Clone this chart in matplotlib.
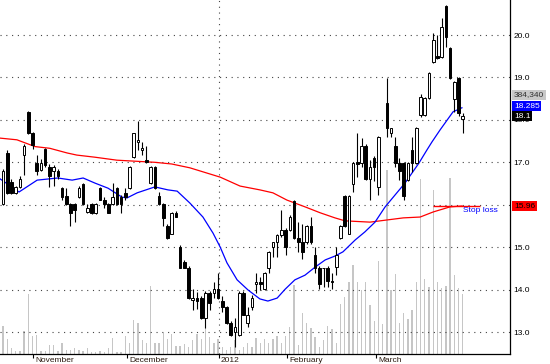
import numpy as np
import matplotlib
matplotlib.use('Agg')
import matplotlib.pyplot as plt

plt.rcParams['font.family'] = ['Liberation Sans', 'DejaVu Sans']

nan = np.nan
opens = [16.02, 17.22, 16.54, 16.28, 16.42, 17.18, 18.19, 17.69, 16.99, 16.82,
         17.32, 16.90, 16.80, 16.80, 16.40, 16.21, 16.02, 16.02, 16.19, 16.49,
         15.83, 16.02, 15.81, 16.40, 16.12, 16.02, 16.02, 16.40, 16.19, 16.28,
         16.40, 17.13, 17.48, 17.29, 17.06, 16.52, 16.90, 16.21, 16.02, 15.51,
         15.32, 15.81, 15.01, 14.64, 14.52, 13.76, 13.81, 13.81, 13.34, 13.93,
         13.93, 14.02, 13.72, 13.60, 13.22, 13.01, 12.92, 13.93, 13.22, 13.60,
         14.12, 14.19, 14.02, 14.52, 15.01, 15.11, 15.29, 15.41, 15.41, 16.09,
         15.22, 15.11, 15.11, 15.51, 14.82, 14.52, 14.50, 14.52, 14.21, 14.54,
         15.22, 16.21, 15.32, 16.49, 17.00, 16.99, 17.39, 16.61, 17.11, 16.42,
         nan, 18.40, 17.69, 17.39, 16.99, 16.99, 16.59, 17.29, 16.99, 18.12,
         18.12, 18.52, 19.36, 19.50, 19.48, 20.68, 19.69, 18.49, 18.99, 18.03]
highs = [16.85, 17.30, 16.60, 16.45, 16.68, 17.42, 18.22, 17.72, 17.18, 17.08,
         17.34, 16.95, 16.94, 16.85, 16.42, 16.40, 16.05, 16.05, 16.45, 16.52,
         16.02, 16.05, 16.05, 16.42, 16.19, 16.05, 16.52, 16.42, 16.22, 16.40,
         16.92, 17.70, 17.98, 17.48, 17.39, 16.92, 16.92, 16.30, 16.05, 15.55,
         15.83, 15.85, 15.05, 14.70, 14.55, 14.02, 13.95, 13.85, 13.96, 13.96,
         14.19, 14.40, 13.84, 13.62, 13.25, 13.34, 13.96, 13.96, 13.60, 13.88,
         14.40, 14.30, 14.42, 14.92, 15.11, 15.30, 15.88, 15.45, 15.75, 16.12,
         15.60, 15.55, 15.53, 15.72, 15.01, 14.55, 14.52, 14.55, 14.40, 15.01,
         15.53, 16.23, 16.23, 17.00, 17.69, 17.58, 17.42, 17.06, 17.15, 17.62,
         nan, 18.99, 17.81, 17.60, 17.10, 17.01, 17.00, 17.60, 17.83, 18.60,
         18.55, 19.13, 20.04, 20.00, 20.40, 20.70, 19.72, 18.92, 19.00, 18.16]
lows = [16.00, 16.25, 16.26, 16.26, 16.40, 16.71, 17.66, 17.32, 16.71, 16.80,
        16.90, 16.42, 16.45, 16.60, 16.10, 16.00, 15.51, 15.60, 16.15, 16.00,
        15.80, 15.78, 15.78, 16.10, 15.93, 15.80, 16.00, 16.00, 15.81, 16.12,
        16.38, 17.10, 17.30, 17.18, 16.99, 16.50, 16.38, 16.00, 15.51, 15.20,
        15.30, 15.70, 14.50, 14.50, 13.78, 13.53, 13.55, 13.30, 13.10, 13.53,
        13.81, 13.78, 13.48, 13.20, 12.90, 12.64, 12.90, 13.39, 13.13, 13.53,
        13.93, 13.98, 14.00, 14.40, 14.76, 14.76, 15.25, 14.82, 15.38, 15.20,
        14.89, 14.71, 15.08, 15.08, 14.40, 14.02, 14.05, 14.05, 14.02, 14.35,
        15.20, 15.48, 15.30, 16.31, 16.66, 16.90, 16.58, 16.12, 16.55, 16.24,
        nan, 17.60, 17.60, 16.90, 16.59, 16.12, 16.55, 16.78, 16.95, 18.06,
        18.08, 18.50, 19.34, 19.44, 19.45, 19.72, 18.97, 18.19, 18.10, 17.69]
closes = [16.80, 16.28, 16.28, 16.42, 16.61, 17.39, 17.69, 17.41, 16.80, 16.99,
          16.94, 16.68, 16.90, 16.68, 16.19, 16.02, 15.81, 15.88, 16.40, 16.02,
          15.93, 15.81, 16.02, 16.12, 16.02, 15.81, 16.19, 16.02, 16.02, 16.19,
          16.90, 17.69, 17.52, 17.34, 17.00, 16.90, 16.40, 16.02, 15.69, 15.22,
          15.81, 15.72, 14.52, 14.52, 13.81, 13.81, 13.72, 13.34, 13.93, 13.69,
          14.02, 13.81, 13.60, 13.22, 12.94, 13.11, 13.93, 13.41, 13.41, 13.81,
          14.19, 14.12, 14.40, 14.89, 15.11, 15.29, 15.41, 15.01, 15.72, 15.22,
          15.11, 14.89, 15.51, 15.11, 14.52, 14.12, 14.52, 14.21, 14.19, 14.82,
          15.51, 15.51, 16.21, 16.99, 16.95, 17.39, 16.61, 16.90, 16.90, 17.60,
          nan, 17.81, 17.81, 16.99, 16.80, 16.21, 16.99, 16.99, 17.81, 18.55,
          18.52, 19.11, 19.88, 19.46, 20.19, 19.95, 18.99, 18.89, 18.16, 18.10]
volume_k = [179, 96, 38, 19, 19, 147, 384, 115, 122, 19,
            19, 58, 58, 19, 70, 26, 26, 38, 26, 19,
            38, 13, 13, 19, 13, 38, 102, 13, 13, 115,
            70, 218, 199, 90, 70, 436, 70, 70, 135, 96,
            128, 51, 51, 64, 45, 90, 128, 96, 205, 109,
            70, 96, 45, 26, 45, 90, 26, 45, 70, 45,
            102, 70, 96, 70, 96, 115, 70, 115, 173, 442,
            58, 263, 199, 167, 109, 45, 90, 179, 160, 70,
            320, 365, 461, 570, 461, 410, 461, 314, 211, 596,
            192, 1179, 410, 512, 199, 263, 224, 282, 461, 1121,
            480, 429, 1051, 461, 423, 436, 1127, 506, 423, 384]

ma_short_idx = [-0.7, 3.8, 8.1, 13.0, 16.4, 19.0, 21.8, 24.9, 28.2, 29.4, 31.8, 36.0,
                39.1, 41.3, 44.3, 47.4, 49.8, 51.5, 53.1, 55.5, 58.1, 60.9, 62.8,
                65.0, 66.9, 69.2, 71.6, 74.0, 76.4, 78.7, 80.6, 83.5, 85.8, 88.2,
                90.6, 95.3, 98.6, 100.5, 101.7, 103.6, 106.7, 108.8]
ma_short = [16.61, 16.30, 16.58, 16.63, 16.58, 16.63, 16.51, 16.39, 16.18, 16.16, 16.28,
            16.42, 16.35, 16.32, 16.04, 15.71, 15.33, 15.00, 14.63, 14.23, 13.99,
            13.78, 13.73, 13.80, 14.01, 14.23, 14.34, 14.53, 14.70, 14.79, 14.89,
            15.17, 15.36, 15.59, 15.95, 16.51, 16.98, 17.29, 17.48, 17.76, 18.19,
            18.285]
ma_long_idx = [-0.7, 3.3, 7.6, 11.1, 15.2, 17.5, 21.8, 27.0, 36.0, 40.0, 44.3, 51.5,
               56.2, 60.9, 64.0, 67.3, 71.6, 75.2, 78.7, 81.1, 87.0, 89.4, 94.9,
               98.9, 102.0, 106.0, 108.8]
ma_long = [17.57, 17.53, 17.37, 17.33, 17.22, 17.17, 17.12, 17.05, 17.00, 16.96, 16.87,
           16.65, 16.44, 16.35, 16.28, 16.11, 15.95, 15.81, 15.69, 15.62, 15.59,
           15.62, 15.69, 15.71, 15.83, 15.95, 15.97]

month_labels = ['November', 'December', '2012', 'February', 'March']
month_start = [7.1, 29.4, 51.2, 67.3, 88.4]
price_ticks = [13.0, 14.0, 15.0, 16.0, 17.0, 18.0, 19.0, 20.0]

last_volume = '384,340'
last_ma = '18.285'
last_close = '18.1'
stop_loss = 15.96
stop_start, stop_end = 102, 113

W, H = 550, 364
fig = plt.figure(figsize=(W / 100, H / 100), dpi=100)
rect = [0, 10 / H, 510 / W, 354 / H]

xlim = (-0.71, 120.2)
ylim = (12.482, 20.825)

# volume (background)
axv = fig.add_axes(rect, zorder=0)
idx = np.arange(len(volume_k))
axv.bar(idx, volume_k, width=0.32, color='#c6c6c6', linewidth=0)
axv.set_xlim(*xlim)
axv.set_ylim(0, 2268)
axv.axis('off')

ax = fig.add_axes(rect, zorder=1)
ax.patch.set_visible(False)
ax.set_xlim(*xlim)
ax.set_ylim(*ylim)

grid_kw = dict(color='#444444', lw=0.8, dashes=(1, 4.2), zorder=1)
for t in price_ticks:
    ax.axhline(t, **grid_kw)
ax.axvline(month_start[2], **grid_kw)

# moving averages
ax.plot(ma_long_idx, ma_long, color='#ff0000', lw=0.9, zorder=2)
ax.plot(ma_short_idx, ma_short, color='#0000ff', lw=0.9, zorder=2)

# candles
o = np.array(opens); h = np.array(highs); l = np.array(lows); c = np.array(closes)
valid = ~np.isnan(o)
ax.vlines(idx[valid], l[valid], h[valid], color='black', lw=0.8, zorder=3)
up = valid & (c >= o)
dn = valid & (c < o)
bw = 0.62
ax.bar(idx[up], np.maximum(c[up] - o[up], 0.02), bottom=o[up], width=bw,
       facecolor='white', edgecolor='black', linewidth=0.7, zorder=4)
ax.bar(idx[dn], np.maximum(o[dn] - c[dn], 0.02), bottom=c[dn], width=bw,
       facecolor='black', edgecolor='black', linewidth=0.7, zorder=4)

# stop loss
ax.hlines(stop_loss, stop_start, stop_end, color='#ff0000', lw=1.0, zorder=3)
ax.text(109.1, stop_loss - 0.02, 'Stop loss', color='#0000ff', fontsize=6,
        ha='left', va='top', zorder=5)

# axes styling
for s in ['left', 'top']:
    ax.spines[s].set_visible(False)
ax.spines['right'].set_color('black')
ax.spines['bottom'].set_color('black')
ax.spines['right'].set_linewidth(0.9)
ax.spines['bottom'].set_linewidth(0.9)
ax.yaxis.tick_right()
ax.set_yticks(price_ticks)
ax.set_yticklabels([f'{t:.1f}' for t in price_ticks], fontsize=6)
ax.tick_params(axis='y', length=0, pad=2.6)

ax.set_xticks(month_start)
ax.set_xticklabels([])
ax.tick_params(axis='x', length=3, width=0.8, direction='out', color='black')
for pos, lab in zip(month_start, month_labels):
    ax.annotate(lab, xy=(pos, 0), xycoords=('data', 'axes fraction'),
                xytext=(1.5, -1.8), textcoords='offset points',
                ha='left', va='top', fontsize=6, color='#2a1a10')

# right-side value labels
def side_label(text, yval, fc, tc):
    ax.annotate(text, xy=(1, yval), xycoords=('axes fraction', 'data'),
                xytext=(2.8, 0), textcoords='offset points', ha='left', va='center',
                fontsize=6, color=tc, zorder=6, annotation_clip=False,
                bbox=dict(boxstyle='square,pad=0.18', fc=fc, ec='none'))

side_label(last_volume, 18.59, '#c8c8c8', '#303030')
side_label(last_ma, 18.32, '#0000ff', 'white')
side_label(last_close, 18.09, 'black', 'white')
side_label(f'{stop_loss:.2f}', stop_loss, '#ff0000', 'black')

fig.savefig('out.png', dpi=100)
